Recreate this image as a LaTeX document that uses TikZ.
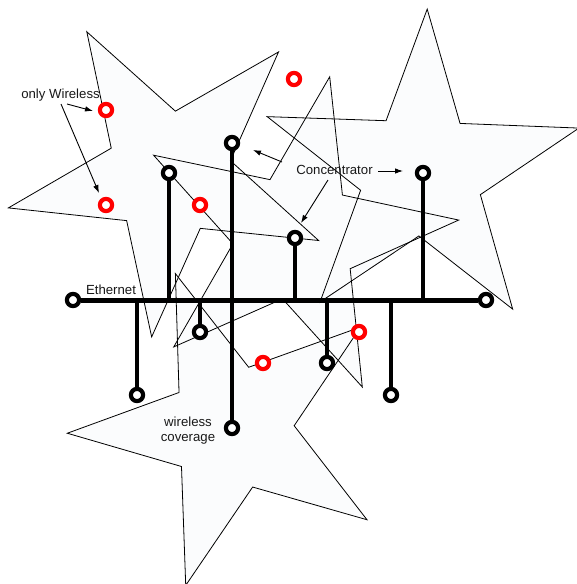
\documentclass[tikz,border=0pt]{standalone}
\usepackage{fontspec}
\setmainfont{Liberation Sans}
\usetikzlibrary{arrows.meta}
\definecolor{starfill}{RGB}{251,252,253}
\definecolor{wred}{RGB}{255,0,0}
\newcommand\svx[4]{({#1+#4*cos(#3)},{#2-#4*sin(#3)})}
\newcommand\drawstar[4]{%
  \path[#4]
    \svx{#1}{#2}{#3}{164} --
    \svx{#1}{#2}{#3+36}{63} --
    \svx{#1}{#2}{#3+72}{164} --
    \svx{#1}{#2}{#3+108}{63} --
    \svx{#1}{#2}{#3+144}{164} --
    \svx{#1}{#2}{#3+180}{63} --
    \svx{#1}{#2}{#3+216}{164} --
    \svx{#1}{#2}{#3+252}{63} --
    \svx{#1}{#2}{#3+288}{164} --
    \svx{#1}{#2}{#3+324}{63} -- cycle;}
\begin{document}
\begin{tikzpicture}[x=1pt,y=-1pt,
  starline/.style={draw=black,line width=0.8pt,line join=miter},
  conc/.style={circle,draw=black,fill=white,line width=4.2pt,minimum size=12.2pt,inner sep=0pt},
  wnode/.style={circle,draw=wred,fill=white,line width=4.2pt,minimum size=12.2pt,inner sep=0pt},
  busline/.style={line width=5pt},
  stub/.style={line width=4.5pt},
  lbl/.style={font=\fontsize{13.2}{15.6}\selectfont,inner sep=0pt,text=black!90},
  arr/.style={line width=0.9pt,-{Latex[length=8pt,width=5.5pt]}}]
\useasboundingbox (0,0) rectangle (577,584);
\fill[white] (0,0) rectangle (577,584);
% star fills
\drawstar{168.8}{173.8}{48}{fill=starfill}
\drawstar{231.2}{427.8}{37.9}{fill=starfill}
\drawstar{421.2}{173}{87.9}{fill=starfill}
\drawstar{295.6}{237.2}{78}{fill=starfill}
% star outlines
\drawstar{168.8}{173.8}{48}{starline}
\drawstar{231.2}{427.8}{37.9}{starline}
\drawstar{421.2}{173}{87.9}{starline}
\drawstar{295.6}{237.2}{78}{starline}
% network nodes
\node[conc] (e1) at (73,300) {};
\node[conc] (e2) at (486,300) {};
\node[conc] (u1) at (169,173) {};
\node[conc] (u2) at (232,143) {};
\node[conc] (u3) at (295,238) {};
\node[conc] (u4) at (423,173) {};
\node[conc] (d1) at (137,395) {};
\node[conc] (d2) at (200,332) {};
\node[conc] (d3) at (232,428) {};
\node[conc] (d4) at (327,363) {};
\node[conc] (d5) at (391,395) {};
% wireless-only nodes
\node[wnode] (w1) at (106,110) {};
\node[wnode] (w2) at (106,205) {};
\node[wnode] (w3) at (200,205) {};
\node[wnode] (w4) at (294,79) {};
\node[wnode] (w5) at (263,363) {};
\node[wnode] (w6) at (359,332) {};
% connectors
\draw[busline] (e1) -- (e2);
\draw[stub] (u1) -- (u1 |- e1);
\draw[stub] (u2) -- (d3);
\draw[stub] (u3) -- (u3 |- e1);
\draw[stub] (u4) -- (u4 |- e1);
\draw[stub] (d1) -- (d1 |- e1);
\draw[stub] (d2) -- (d2 |- e1);
\draw[stub] (d4) -- (d4 |- e1);
\draw[stub] (d5) -- (d5 |- e1);
% labels
\node[lbl] (lw) at (60.5,95) {only Wireless};
\node[lbl] (le) at (111,290) {Ethernet};
\node[lbl] (lc) at (334.5,170) {Concentrator};
\node[lbl,align=center] (lv) at (188,430.5) {wireless\\coverage};
% arrows
\coordinate (a1s) at (67,104);
\coordinate (a1e) at (93,111);
\coordinate (a2s) at (61,104);
\coordinate (a2e) at (99,193);
\coordinate (a3s) at (378,171);
\coordinate (a3e) at (403,171);
\coordinate (a4s) at (328,180);
\coordinate (a4e) at (301,223);
\coordinate (a5s) at (282,162);
\coordinate (a5e) at (253,150);
\draw[arr] (a1s) -- (a1e);
\draw[arr] (a2s) -- (a2e);
\draw[arr] (a3s) -- (a3e);
\draw[arr] (a4s) -- (a4e);
\draw[arr] (a5s) -- (a5e);
\end{tikzpicture}
\end{document}
